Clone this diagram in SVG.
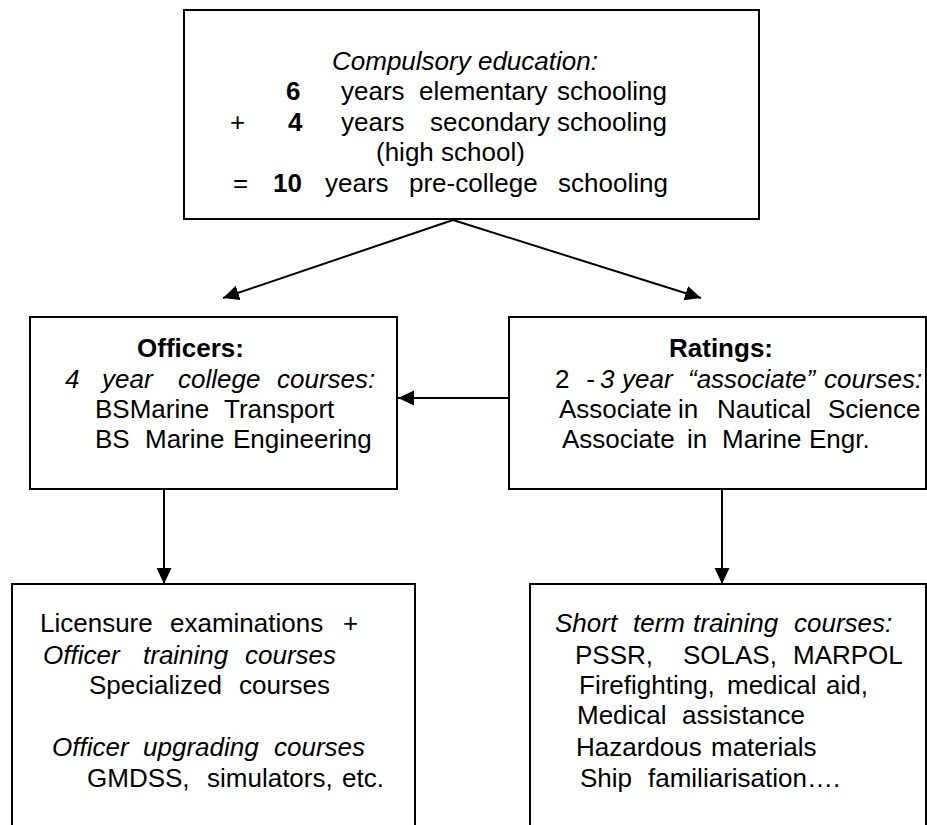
<svg xmlns="http://www.w3.org/2000/svg" width="927" height="825" viewBox="0 0 927 825">
<style>
  .box { fill: #fff; stroke: #000; stroke-width: 2; }
  .t { font-family: "Liberation Sans", Arial, sans-serif; font-size: 26px; fill: #000; }
  .i { font-style: italic; }
  .n { font-style: normal; }
  .b { font-weight: bold; }
  .conn { stroke: #000; stroke-width: 2; fill: none; marker-end: url(#arr); }
</style>
<defs>
  <marker id="arr" markerUnits="userSpaceOnUse" markerWidth="18" markerHeight="16" refX="16" refY="7.5" orient="auto">
    <path d="M0,0 L16,7.5 L0,15 Z" fill="#000"/>
  </marker>
</defs>
<rect width="927" height="825" fill="#fff"/>

<g id="connectors">
  <line class="conn" x1="453" y1="220" x2="223" y2="298"/>
  <line class="conn" x1="453" y1="220" x2="701" y2="298"/>
  <line class="conn" x1="509" y1="398" x2="398" y2="398"/>
  <line class="conn" x1="164" y1="489" x2="164" y2="584"/>
  <line class="conn" x1="722" y1="489" x2="722" y2="584"/>
</g>

<g id="compulsory">
  <rect class="box" x="184" y="10" width="575" height="209"/>
  <text class="t i" x="332" y="70">Compulsory education:</text>
  <text class="t"><tspan class="b" x="286" y="100">6</tspan><tspan x="341" y="100">years</tspan><tspan x="419" y="100">elementary</tspan><tspan x="557" y="100">schooling</tspan></text>
  <text class="t"><tspan x="230" y="131">+</tspan><tspan class="b" x="288" y="131">4</tspan><tspan x="341" y="131">years</tspan><tspan x="430" y="131">secondary</tspan><tspan x="557" y="131">schooling</tspan></text>
  <text class="t" x="376" y="161">(high school)</text>
  <text class="t"><tspan x="233" y="192">=</tspan><tspan class="b" x="273" y="192">10</tspan><tspan x="325" y="192">years</tspan><tspan x="409" y="192">pre-college</tspan><tspan x="558" y="192">schooling</tspan></text>
</g>

<g id="officers">
  <rect class="box" x="30" y="317" width="367" height="172"/>
  <text class="t b" x="137" y="357">Officers:</text>
  <text class="t i"><tspan x="65" y="388">4</tspan><tspan x="102" y="388">year</tspan><tspan x="178" y="388">college</tspan><tspan x="277" y="388">courses:</tspan></text>
  <text class="t"><tspan x="95" y="418">BSMarine</tspan><tspan x="224" y="418">Transport</tspan></text>
  <text class="t"><tspan x="95" y="448">BS</tspan><tspan x="145" y="448">Marine</tspan><tspan x="233" y="448">Engineering</tspan></text>
</g>

<g id="ratings">
  <rect class="box" x="509" y="317" width="417" height="172"/>
  <text class="t b" x="669" y="357">Ratings:</text>
  <text class="t i"><tspan class="n" x="555" y="388">2</tspan><tspan x="586" y="388">-</tspan><tspan x="600" y="388">3</tspan><tspan x="622" y="388">year</tspan><tspan x="688" y="388">“associate”</tspan><tspan x="824" y="388">courses:</tspan></text>
  <text class="t"><tspan x="559" y="418">Associate</tspan><tspan x="678" y="418">in</tspan><tspan x="717" y="418">Nautical</tspan><tspan x="828" y="418">Science</tspan></text>
  <text class="t"><tspan x="562" y="448">Associate</tspan><tspan x="687" y="448">in</tspan><tspan x="722" y="448">Marine</tspan><tspan x="809" y="448">Engr.</tspan></text>
</g>

<g id="officer-training">
  <rect class="box" x="12" y="584" width="403" height="260"/>
  <text class="t"><tspan x="40" y="632">Licensure</tspan><tspan x="170" y="632">examinations</tspan><tspan x="343" y="632">+</tspan></text>
  <text class="t i"><tspan x="43" y="664">Officer</tspan><tspan x="143" y="664">training</tspan><tspan x="245" y="664">courses</tspan></text>
  <text class="t"><tspan x="89" y="694">Specialized</tspan><tspan x="239" y="694">courses</tspan></text>
  <text class="t i"><tspan x="52" y="756">Officer</tspan><tspan x="143" y="756">upgrading</tspan><tspan x="274" y="756">courses</tspan></text>
  <text class="t"><tspan x="87" y="787">GMDSS,</tspan><tspan x="207" y="787">simulators,</tspan><tspan x="342" y="787">etc.</tspan></text>
</g>

<g id="ratings-training">
  <rect class="box" x="530" y="584" width="396" height="260"/>
  <text class="t i"><tspan x="555" y="632">Short</tspan><tspan x="633" y="632">term</tspan><tspan x="693" y="632">training</tspan><tspan x="794" y="632">courses:</tspan></text>
  <text class="t"><tspan x="575" y="664">PSSR,</tspan><tspan x="683" y="664">SOLAS,</tspan><tspan x="793" y="664">MARPOL</tspan></text>
  <text class="t"><tspan x="579" y="694">Firefighting,</tspan><tspan x="727" y="694">medical</tspan><tspan x="826" y="694">aid,</tspan></text>
  <text class="t"><tspan x="577" y="724">Medical</tspan><tspan x="682" y="724">assistance</tspan></text>
  <text class="t"><tspan x="576" y="756">Hazardous</tspan><tspan x="711" y="756">materials</tspan></text>
  <text class="t"><tspan x="580" y="787">Ship</tspan><tspan x="648" y="787">familiarisation….</tspan></text>
</g>
</svg>
